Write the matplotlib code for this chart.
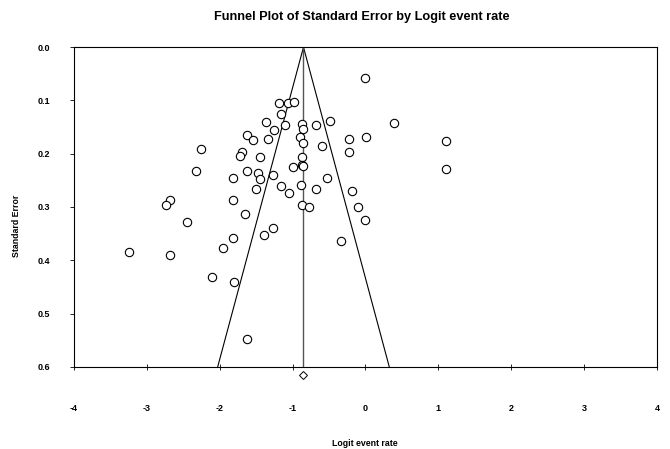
import matplotlib
matplotlib.use("Agg")
import matplotlib.pyplot as plt

plt.rcParams['font.family'] = ['Liberation Sans', 'DejaVu Sans']

# logit event rate and standard error of each study
logit = [-1.19, -1.06, -0.98, -1.16, -1.11, -1.37, -1.26, -0.87, -0.86, -1.63,
         -1.54, -1.33, -0.90, -0.86, -2.25, -1.69, -1.72, -1.44, -0.87, -1.00,
         -0.87, -0.86, -2.32, -1.63, -1.47, -1.45, -1.27, -1.82, -1.16, -1.05,
         -0.89, -1.50, -2.68, -2.73, -1.82, -0.87, -0.77, 0.00, -0.68, -0.48,
         0.39, -0.59, -0.23, 0.01, -0.22, 1.11, 1.10, -0.53, -0.68, -0.19,
         -0.10, -1.65, -2.44, -1.27, -1.39, -1.82, -1.95, -3.24, -2.68, -2.10,
         -1.80, -1.62, 0.00, -0.33]
se = [0.104, 0.104, 0.103, 0.126, 0.147, 0.141, 0.156, 0.145, 0.153, 0.164,
      0.175, 0.173, 0.168, 0.179, 0.191, 0.197, 0.204, 0.206, 0.206, 0.225,
      0.221, 0.223, 0.233, 0.232, 0.236, 0.248, 0.240, 0.246, 0.261, 0.273,
      0.258, 0.266, 0.286, 0.296, 0.287, 0.296, 0.300, 0.058, 0.147, 0.138,
      0.143, 0.185, 0.172, 0.168, 0.197, 0.176, 0.229, 0.246, 0.267, 0.270,
      0.300, 0.314, 0.329, 0.340, 0.352, 0.358, 0.377, 0.384, 0.390, 0.432,
      0.440, 0.547, 0.324, 0.363]

mean = -0.85
se_max = 0.6
xticks = [-4, -3, -2, -1, 0, 1, 2, 3, 4]
yticks = [0.0, 0.1, 0.2, 0.3, 0.4, 0.5, 0.6]

fig = plt.figure(figsize=(6.7, 4.49), dpi=100)
ax = fig.add_axes([0.110, 0.183, 0.871, 0.712])

# funnel and mean line
ax.plot([mean - 1.96 * se_max, mean, mean + 1.96 * se_max], [se_max, 0, se_max],
        color='black', lw=0.8)
ax.plot([mean, mean], [0, se_max], color='#555555', lw=1.0)

ax.plot(logit, se, 'o', mfc='white', mec='black', ms=6, mew=0.8, ls='none')
ax.plot([mean], [0.615], 'D', mfc='white', mec='black', ms=4, mew=0.7, clip_on=False)

ax.set_xlim(-4, 4)
ax.set_ylim(0.6, 0.0)
ax.set_xticks(xticks)
ax.set_yticks(yticks)
ax.set_xticklabels([str(t) for t in xticks])
ax.set_yticklabels(['%.1f' % t for t in yticks])
ax.tick_params(axis='x', direction='inout', length=5, width=0.6, pad=24, labelsize=6.5)
ax.tick_params(axis='y', direction='out', length=3, width=0.6, pad=14, labelsize=6.5)
for lab in ax.get_xticklabels() + ax.get_yticklabels():
    lab.set_fontweight('bold')
for s in ax.spines.values():
    s.set_linewidth(0.8)

fig.text(364.5 / 670, 1 - 444 / 449, 'Logit event rate', ha='center', va='center',
         fontsize=6.3, fontweight='bold')
fig.text(16.5 / 670, 1 - 226 / 449, 'Standard Error', ha='center', va='center',
         rotation=90, fontsize=6.3, fontweight='bold')
fig.text(361.5 / 670, 1 - 17 / 449, 'Funnel Plot of Standard Error by Logit event rate',
         ha='center', va='center', fontsize=9.2, fontweight='bold')

fig.savefig('out.png', dpi=100)
